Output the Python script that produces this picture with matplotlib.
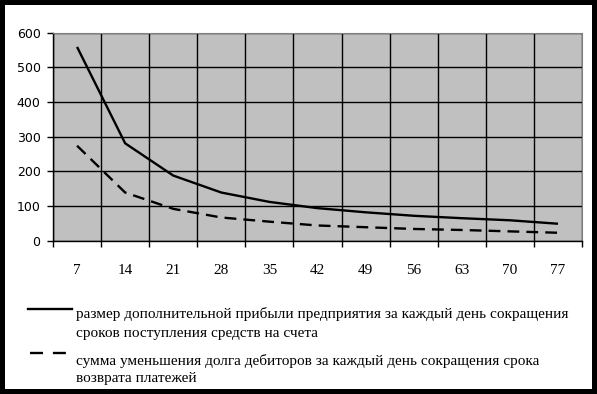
import matplotlib
matplotlib.use('Agg')
import matplotlib.pyplot as plt
import matplotlib.lines as mlines
import numpy as np

days = [7, 14, 21, 28, 35, 42, 49, 56, 63, 70, 77]
profit = [559, 281, 188, 139, 112, 94, 82, 72, 65, 59, 49]
debt = [274, 139, 92, 67, 55, 44, 39, 34, 31, 27, 23]
label_profit = ['размер дополнительной прибыли предприятия за каждый день сокращения',
                'сроков поступления средств на счета']
label_debt = ['сумма уменьшения долга дебиторов за каждый день сокращения срока',
              'возврата платежей']

fig = plt.figure(figsize=(5.97, 3.94), dpi=100)
fig.patch.set_facecolor('white')
fig.patch.set_edgecolor('black')
fig.patch.set_linewidth(7.2)

ax = fig.add_axes([0.0888, 0.389, 0.8861, 0.528])
ax.set_facecolor('#c0c0c0')

x = np.arange(len(days))
ax.plot(x, profit, color='black', lw=1.7, solid_capstyle='butt')
ax.plot(x, debt, color='black', lw=1.7, dashes=(5, 3))

ax.set_xlim(-0.5, len(days) - 0.5)
ax.set_ylim(0, 600)
ax.set_yticks(range(0, 601, 100))
ax.set_xticks(np.arange(-0.5, len(days), 1.0))
ax.set_xticklabels([])
ax.set_xticks(x, minor=True)
ax.set_xticklabels([str(d) for d in days], minor=True, fontfamily='Liberation Serif', fontsize=11)
ax.tick_params(axis='x', which='major', length=4, width=1, direction='out', color='black')
ax.tick_params(axis='x', which='minor', length=0, pad=17)
ax.tick_params(axis='y', length=4, width=1, direction='out', pad=5, labelsize=9)
ax.grid(True, which='major', color='black', lw=1)
ax.set_axisbelow(True)
for s in ['top', 'right']:
    ax.spines[s].set_color('#808080')
for s in ['left', 'bottom']:
    ax.spines[s].set_color('black')
    ax.spines[s].set_linewidth(1)

# legend drawn by hand so the key sits on the first text line
W, H = 597, 394
fig.add_artist(mlines.Line2D([28 / W, 72 / W], [1 - 309 / H] * 2, color='black', lw=1.7))
fig.add_artist(mlines.Line2D([30 / W, 66 / W], [1 - 353 / H] * 2, color='black', lw=1.7,
                             dashes=(5.5, 4.2)))
for lines, baselines in [(label_profit, [318, 337]), (label_debt, [365, 382])]:
    for txt, yb in zip(lines, baselines):
        fig.text(76 / W, 1 - yb / H, txt, va='baseline', ha='left',
                 fontfamily='Liberation Serif', fontsize=11)

fig.savefig('out.png', dpi=100, facecolor=fig.get_facecolor(), edgecolor=fig.get_edgecolor())
